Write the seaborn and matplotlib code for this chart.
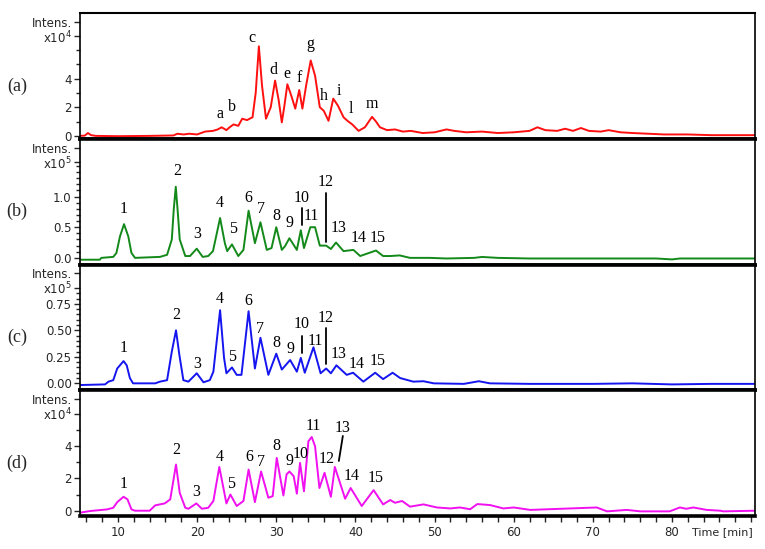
import numpy as np
import matplotlib
matplotlib.use("Agg")
import matplotlib.pyplot as plt
import seaborn as sns

# chromatogram traces (time in min, intensity in axis units)
time_a = [5.2, 5.8, 6.2, 6.6, 7.2, 10.0, 14.0, 17.0, 17.5, 18.3, 19.0, 20.0, 21.0, 22.0, 22.6,
          23.1, 23.7, 24.1, 24.6, 25.2, 25.7, 26.3, 27.0, 27.4, 27.8, 28.2, 28.7, 29.3, 29.85,
          30.3, 30.7, 31.0, 31.4, 31.9, 32.4, 32.9, 33.3, 33.8, 34.35, 34.9, 35.5, 36.0, 36.6,
          37.2, 37.8, 38.5, 39.0, 39.6, 40.4, 41.2, 42.1, 42.6, 43.1, 44.0, 45.0, 46.0, 47.0,
          48.5, 50.0, 51.5, 52.5, 54.0, 56.0, 58.0, 60.0, 62.0, 63.0, 64.0, 65.5, 66.5, 67.5,
          68.5, 69.5, 71.0, 72.0, 73.5, 75.0, 77.0, 79.0, 82.0, 85.0, 88.0, 90.5]
int_a = [0.0, 0.02, 0.2, 0.05, 0.0, -0.02, 0.0, 0.03, 0.15, 0.1, 0.15, 0.1, 0.3, 0.35, 0.45,
         0.6, 0.4, 0.6, 0.8, 0.7, 1.2, 1.1, 1.3, 3.0, 6.25, 3.5, 1.2, 2.0, 3.86,
         2.5, 0.94, 2.0, 3.6, 2.8, 1.9, 3.2, 1.9, 3.6, 5.26, 4.2, 2.0, 1.75, 1.05,
         2.6, 2.1, 1.3, 1.05, 0.8, 0.35, 0.6, 1.33, 1.0, 0.6, 0.4, 0.45, 0.3, 0.35,
         0.2, 0.25, 0.45, 0.35, 0.25, 0.3, 0.2, 0.25, 0.35, 0.6, 0.4, 0.35, 0.5, 0.35,
         0.55, 0.35, 0.3, 0.4, 0.25, 0.2, 0.15, 0.1, 0.1, 0.05, 0.05, 0.05]

time_b = [5.2, 7.7, 7.9, 9.4, 9.8, 10.25, 10.76, 11.3, 11.7, 12.15, 15.3, 16.2, 16.8, 17.05,
          17.3, 17.55, 17.8, 18.5, 19.1, 19.95, 20.7, 21.4, 22.0, 22.9, 23.5, 23.8, 24.4, 25.2,
          25.85, 26.5, 27.3, 28.0, 28.8, 29.4, 30.0, 30.7, 31.1, 31.66, 32.6, 33.1, 33.5, 34.3,
          34.9, 35.5, 36.3, 36.9, 37.55, 38.5, 39.75, 40.6, 42.6, 43.5, 44.4, 45.6, 46.9, 49.4,
          51.5, 55.0, 56.0, 58.0, 62.0, 70.0, 78.0, 80.0, 81.0, 90.5]
int_b = [-0.03, -0.03, 0.0, 0.016, 0.08, 0.35, 0.55, 0.35, 0.08, 0.0, 0.016, 0.05, 0.3, 0.8,
         1.16, 0.75, 0.3, 0.03, 0.03, 0.15, 0.016, 0.03, 0.11, 0.65, 0.24, 0.11, 0.22, 0.03,
         0.13, 0.77, 0.24, 0.58, 0.13, 0.16, 0.50, 0.13, 0.19, 0.32, 0.13, 0.45, 0.16, 0.5,
         0.5, 0.2, 0.2, 0.145, 0.25, 0.11, 0.13, 0.03, 0.12, 0.03, 0.03, 0.04, 0.0, 0.0,
         -0.01, 0.0, 0.015, 0.0, -0.01, -0.01, -0.01, -0.025, -0.01, -0.01]

time_c = [5.2, 8.36, 8.8, 9.4, 9.9, 10.7, 11.1, 11.5, 11.9, 14.7, 15.3, 16.2, 16.8, 17.33,
          17.75, 18.26, 18.9, 19.95, 20.8, 21.6, 22.05, 22.9, 23.4, 23.7, 24.4, 25.0, 25.6,
          26.5, 27.3, 28.0, 29.0, 30.0, 30.7, 31.75, 32.6, 33.1, 33.6, 34.7, 35.6, 36.3, 36.9,
          37.6, 38.9, 39.7, 41.0, 42.5, 43.5, 44.7, 45.65, 47.3, 48.6, 49.9, 53.7, 55.6, 57.0,
          62.0, 70.0, 75.0, 80.0, 85.0, 90.5]
int_c = [-0.016, -0.01, 0.016, 0.03, 0.14, 0.21, 0.17, 0.05, 0.0, 0.0, 0.016, 0.03, 0.3, 0.50,
         0.27, 0.03, 0.016, 0.095, 0.01, 0.03, 0.11, 0.69, 0.24, 0.095, 0.15, 0.08, 0.08,
         0.68, 0.14, 0.43, 0.08, 0.28, 0.13, 0.22, 0.11, 0.24, 0.10, 0.34, 0.095, 0.14, 0.095,
         0.17, 0.08, 0.10, 0.016, 0.10, 0.04, 0.10, 0.05, 0.016, 0.02, 0.0, -0.005, 0.02, 0.0,
         -0.005, -0.005, 0.0, -0.01, -0.005, -0.005]

time_d = [5.2, 6.46, 8.6, 9.4, 9.9, 10.7, 11.2, 11.7, 12.15, 14.0, 14.7, 15.9, 16.6, 17.33,
          17.8, 18.5, 18.9, 19.9, 20.6, 21.4, 22.05, 22.8, 23.7, 24.2, 25.0, 25.85, 26.5, 27.3,
          28.08, 29.0, 29.55, 30.06, 30.9, 31.3, 31.66, 32.2, 32.6, 33.0, 33.5, 34.06, 34.48,
          34.9, 35.45, 36.1, 36.9, 37.4, 38.7, 39.4, 40.8, 42.3, 43.5, 44.4, 45.0, 45.9, 46.9,
          48.6, 50.3, 52.0, 53.2, 54.5, 55.4, 57.0, 58.7, 60.0, 62.1, 70.5, 71.8, 74.3, 76.0,
          79.7, 81.0, 81.8, 82.7, 84.4, 86.1, 86.5, 90.5]
int_d = [-0.12, -0.02, 0.08, 0.18, 0.53, 0.86, 0.7, 0.08, 0.0, 0.0, 0.33, 0.45, 0.7, 2.85,
         1.1, 0.18, 0.12, 0.45, 0.12, 0.18, 0.6, 2.7, 0.45, 1.0, 0.29, 0.6, 2.54, 0.53,
         2.42, 0.8, 0.9, 3.26, 0.94, 2.24, 2.42, 2.13, 1.05, 2.95, 1.2, 4.29, 4.55,
         3.98, 1.4, 2.34, 0.86, 2.7, 0.74, 1.4, 0.29, 1.27, 0.39, 0.66, 0.49, 0.6, 0.25,
         0.39, 0.2, 0.14, 0.2, 0.09, 0.41, 0.35, 0.14, 0.2, 0.05, 0.2, -0.04, 0.05, -0.04,
         -0.04, 0.2, 0.12, 0.2, 0.05, 0.0, -0.04, 0.0]

# peak labels and the retention time of the peak they belong to
peaks_a = ["a", "b", "c", "d", "e", "f", "g", "h", "i", "l", "m"]
peak_t_a = [23.1, 24.6, 27.8, 29.85, 31.4, 32.9, 34.35, 36.0, 37.2, 39.0, 42.1]
peaks_num = [str(i) for i in range(1, 16)]
peak_t_b = [10.76, 17.3, 19.95, 22.9, 24.4, 26.5, 28.0, 30.0, 31.66, 33.1, 34.6, 36.3, 37.55, 39.75, 42.6]
peak_t_c = [10.7, 17.33, 19.95, 22.9, 24.4, 26.5, 28.0, 30.0, 31.75, 33.1, 34.7, 36.3, 37.6, 39.7, 42.5]
peak_t_d = [10.7, 17.33, 19.9, 22.8, 24.2, 26.5, 28.08, 30.06, 31.66, 33.0, 34.48, 36.1, 37.4, 39.4, 42.3]

# label offsets from the apex, in pixels (layout only)
off_a = [(-2, 13), (-2, 17), (-7, 8), (-2, 11), (0, 10), (0, 12), (0, 16), (0, 15), (6, 8), (3, 12), (0, 13)]
off_b = [(0, 15), (1, 16), (0, 15), (0, 15), (1, 15), (0, 13), (1, 13), (0, 11), (0, 15), (1, 32),
         (1, 11), (0, 64), (3, 15), (5, 12), (2, 13)]
off_c = [(0, 13), (0, 15), (0, 9), (0, 11), (0, 10), (0, 10), (0, 9), (0, 11), (0, 11), (1, 34),
         (2, 6), (0, 51), (2, 11), (4, 9), (2, 12)]
off_d = [(0, 13), (0, 15), (0, 11), (0, 10), (1, 11), (1, 13), (0, 10), (0, 12), (0, 11), (1, 9),
         (2, 11), (2, 14), (8, 39), (1, 12), (2, 12)]

# marker strokes next to some labels: (panel, label) -> start/end offsets in pixels from apex
strokes = {(1, "10"): ((1, 5), (1, 22)), (1, "12"): ((0, 4), (0, 53)),
           (2, "10"): ((1, 5), (1, 22)), (2, "12"): ((0, 5), (0, 41)),
           (3, "13"): ((4, 6), (8, 31))}

sns.set_theme(style="ticks")
plt.rcParams["font.family"] = ["DejaVu Sans"]

fig, axes = plt.subplots(4, 1, figsize=(7.65, 5.49), dpi=100, sharex=True)
fig.subplots_adjust(left=0.1046, right=0.987, top=0.976, bottom=0.060, hspace=0)

panels = [
    ("(a)", time_a, int_a, "#ff1010", (-0.21, 8.56), 4, [0, 2, 4], 1.0, peaks_a, peak_t_a, off_a),
    ("(b)", time_b, int_b, "#13891a", (-0.11, 1.94), 5, [0.0, 0.5, 1.0], 0.1, peaks_num, peak_t_b, off_b),
    ("(c)", time_c, int_c, "#1515f0", (-0.066, 1.12), 5, [0.0, 0.25, 0.5, 0.75], 0.05, peaks_num, peak_t_c, off_c),
    ("(d)", time_d, int_d, "#f010f0", (-0.33, 7.43), 4, [0, 2, 4], 1.0, peaks_num, peak_t_d, off_d),
]

serif = ["Liberation Serif", "DejaVu Serif"]

for k, (tag, t, v, col, ylim, expo, majors, minor_step, labs, pts, offs) in enumerate(panels):
    ax = axes[k]
    t = np.asarray(t, float)
    v = np.asarray(v, float)
    sns.lineplot(x=t, y=v, ax=ax, color=col, lw=1.4, estimator=None)
    ax.set_xlim(5.2, 90.5)
    ax.set_ylim(*ylim)
    span = ylim[1] - ylim[0]
    y_int = ylim[0] + 0.93 * span
    y_exp = ylim[0] + 0.815 * span
    if isinstance(majors[0], float) and minor_step < 0.1:
        fmt = ["%.2f" % m for m in majors]
    elif isinstance(majors[0], float):
        fmt = ["%.1f" % m for m in majors]
    else:
        fmt = [str(m) for m in majors]
    ax.set_yticks(majors + [y_exp, y_int])
    ax.set_yticklabels(fmt + [r"x10$^{%d}$" % expo, "Intens."])
    lbls = ax.get_yticklabels()
    lbls[-1].set_fontsize(6.8)
    lbls[-2].set_fontsize(7.5)
    minors = np.arange(0, y_exp - 0.5 * minor_step, minor_step)
    ax.set_yticks(minors, minor=True)
    ax.tick_params(axis="y", which="major", direction="out", length=4, width=1, labelsize=8.5, pad=2)
    ax.tick_params(axis="y", which="minor", direction="out", length=3, width=1)
    ax.set_ylabel("")
    ax.set_xlabel("")
    for s in ax.spines.values():
        s.set_color("black")
        s.set_visible(True)
    ax.spines["left"].set_linewidth(1.2)
    ax.spines["right"].set_linewidth(1.2)
    ax.spines["top"].set_linewidth(2.6 if k > 0 else 1.5)
    ax.spines["bottom"].set_linewidth(2.6)
    if k < 3:
        ax.tick_params(axis="x", which="both", bottom=False, labelbottom=False)
    ax.text(-0.093, 0.42, tag, transform=ax.transAxes, ha="center", va="center",
            fontsize=13, family=serif)

    # peak labels anchored at the apex found in the trace
    for lab, t0, (dx, dy) in zip(labs, pts, offs):
        m = np.abs(t - t0) <= 0.35
        i = np.argmax(v[m])
        xy = (t[m][i], v[m][i])
        ax.annotate(lab, xy=xy, xytext=(dx, dy), textcoords="offset pixels",
                    ha="center", va="center", fontsize=11.5, family=serif, color="black")
        if (k, lab) in strokes:
            s0, s1 = strokes[(k, lab)]
            inv = ax.transData.inverted()
            p0 = ax.transData.transform(xy)
            a0 = inv.transform(p0 + np.array(s0))
            a1 = inv.transform(p0 + np.array(s1))
            ax.plot([a0[0], a1[0]], [a0[1], a1[1]], color="black", lw=1.3)

ax = axes[3]
ax.set_xticks(np.arange(10, 81, 10))
ax.set_xticks(np.arange(6, 91, 2), minor=True)
ax.tick_params(axis="x", which="major", direction="out", length=4, width=1, labelsize=8.5, pad=3)
ax.tick_params(axis="x", which="minor", direction="out", length=4, width=1)
ax.text(0.951, -0.127, "Time [min]", transform=ax.transAxes, ha="center", va="center", fontsize=8)

fig.savefig("out.png", dpi=100)
